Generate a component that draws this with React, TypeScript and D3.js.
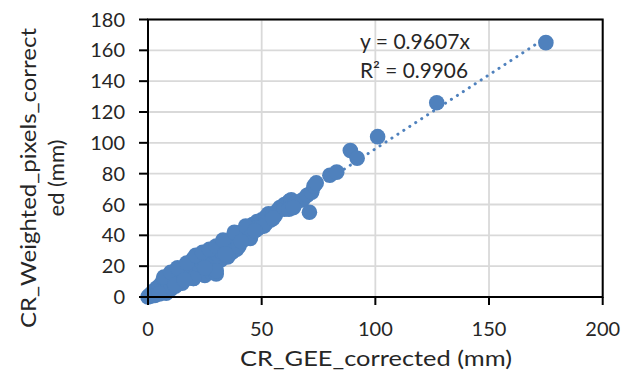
import React from "react";
import * as d3 from "d3";

const xTicks = [0, 50, 100, 150, 200];
const yTicks = [0, 20, 40, 60, 80, 100, 120, 140, 160, 180];

const xVals = [
  0, 0.5, 1, 1.5, 2, 2, 3, 3, 4, 4, 5, 5, 6, 6, 7, 7, 7, 8, 8, 8, 9, 10, 10, 10, 11, 12, 12, 13, 13, 14, 14,
  15, 15, 16, 16, 17, 18, 18, 19, 20, 20, 20, 21, 22, 22, 23, 23, 24, 25, 25, 26, 26, 27, 28, 28, 28, 29, 30,
  30, 31, 31, 32, 32, 33, 33, 34, 35, 35, 36, 36, 37, 37, 38, 38, 39, 39, 40, 40, 41, 42, 42, 43, 44, 45, 45,
  46, 46, 47, 48, 48, 49, 50, 50, 52, 52, 53, 54, 55, 56, 57, 58, 60, 60, 62, 63, 64, 65, 68, 70, 71, 72, 73,
  74, 80, 83, 89, 92, 101, 127, 175,
  7, 10, 13, 17, 21, 24, 27, 30, 33, 38, 43, 20, 30, 35, 40, 45, 51, 62, 64, 3, 5, 12, 16, 25, 34, 41, 47, 55,
];
const yVals = [
  0, 1, 0.5, 2, 1, 3, 2, 4.5, 3, 6, 4, 7, 5, 9, 6, 3, 12, 7, 11, 2.5, 8, 9, 14, 5, 10, 12, 7, 11, 17, 13, 18,
  14, 9, 15, 19, 13, 17, 22, 16, 19, 12, 25, 18, 21, 26, 17, 27, 22, 24, 14, 20, 28, 25, 26, 16, 30, 22, 28,
  15, 27, 32, 30, 24, 35, 28, 32, 31, 26, 36, 33, 38, 29, 35, 40, 37, 31, 39, 34, 42, 40, 37, 44, 41, 45, 38,
  47, 42, 46, 44, 49, 48, 50, 46, 52, 48, 54, 50, 54, 53, 56, 58, 60, 57, 62, 63, 59, 61, 63, 66, 55, 68, 72,
  74, 79, 81, 95, 90, 104, 126, 165,
  13, 16, 19, 22, 27, 29, 31, 33, 37, 42, 46, 12, 17, 27, 33, 39, 46, 57, 58, 1, 2, 8, 11, 19, 28, 36, 43, 51,
];

const slope = 0.9607;
const eqLines = ["y = 0.9607x", "R² = 0.9906"];
const xTitle = "CR_GEE_corrected (mm)";
const yTitle = ["CR_Weighted_pixels_correct", "ed (mm)"];

const W = 633;
const H = 383;
const FONT = "Lato, 'Open Sans', sans-serif";

export default function App() {
  const x = d3.scaleLinear().domain([0, 200]).range([148, 602.7]);
  const y = d3.scaleLinear().domain([0, 180]).range([297, 19.5]);
  const pts = xVals.map((v, i) => [v, yVals[i]] as [number, number]);
  const line = d3
    .line<number>()
    .x((d) => x(d))
    .y((d) => y(slope * d));
  const textColor = "#262626";

  return (
    <svg
      width={W}
      height={H}
      style={{ position: "absolute", left: 0, top: 0, background: "#fff" }}
      fontFamily={FONT}
    >
      <rect x={0} y={0} width={W} height={H} fill="#fff" />
      {yTicks.map((t) => (
        <line key={"gy" + t} x1={x(0)} x2={x(200)} y1={y(t)} y2={y(t)} stroke="#d9d9d9" strokeWidth={1.8} />
      ))}
      {xTicks.map((t) => (
        <line key={"gx" + t} x1={x(t)} x2={x(t)} y1={y(0)} y2={y(180)} stroke="#d9d9d9" strokeWidth={1.8} />
      ))}
      <path
        d={line([0, 175]) || ""}
        fill="none"
        stroke="#4f81bd"
        strokeWidth={3}
        strokeDasharray="0.1,7"
        strokeLinecap="round"
      />
      {pts.map((p, i) => (
        <circle key={i} cx={x(p[0])} cy={y(p[1])} r={7.8} fill="#4f81bd" />
      ))}
      <rect x={x(0)} y={y(180)} width={x(200) - x(0)} height={y(0) - y(180)} fill="none" stroke="#000" strokeWidth={2} />
      {yTicks.map((t) => (
        <g key={"ty" + t}>
          <line x1={x(0) - 9} x2={x(0)} y1={y(t)} y2={y(t)} stroke="#000" strokeWidth={2} />
          <text x={125} y={y(t)} dy="0.35em" textAnchor="end" fontSize={20} fill={textColor}>
            {t}
          </text>
        </g>
      ))}
      {xTicks.map((t) => (
        <g key={"tx" + t}>
          <line x1={x(t)} x2={x(t)} y1={y(0)} y2={y(0) + 8} stroke="#000" strokeWidth={2} />
          <text x={x(t)} y={336} textAnchor="middle" fontSize={20} fill={textColor}>
            {t}
          </text>
        </g>
      ))}
      {eqLines.map((s, i) => (
        <text key={s} x={360} y={49 + i * 29} fontSize={21} fill={textColor} textLength={i === 0 ? 110 : 108} lengthAdjust="spacingAndGlyphs">
          {s}
        </text>
      ))}
      <text x={376} y={366} textAnchor="middle" fontSize={22} fill={textColor} textLength={272} lengthAdjust="spacingAndGlyphs">
        {xTitle}
      </text>
      <g transform="translate(36,178) rotate(-90)">
        <text x={0} y={0} textAnchor="middle" fontSize={22} fill={textColor} textLength={300} lengthAdjust="spacingAndGlyphs">
          {yTitle[0]}
        </text>
        <text x={0} y={28} textAnchor="middle" fontSize={22} fill={textColor}>
          {yTitle[1]}
        </text>
      </g>
    </svg>
  );
}
